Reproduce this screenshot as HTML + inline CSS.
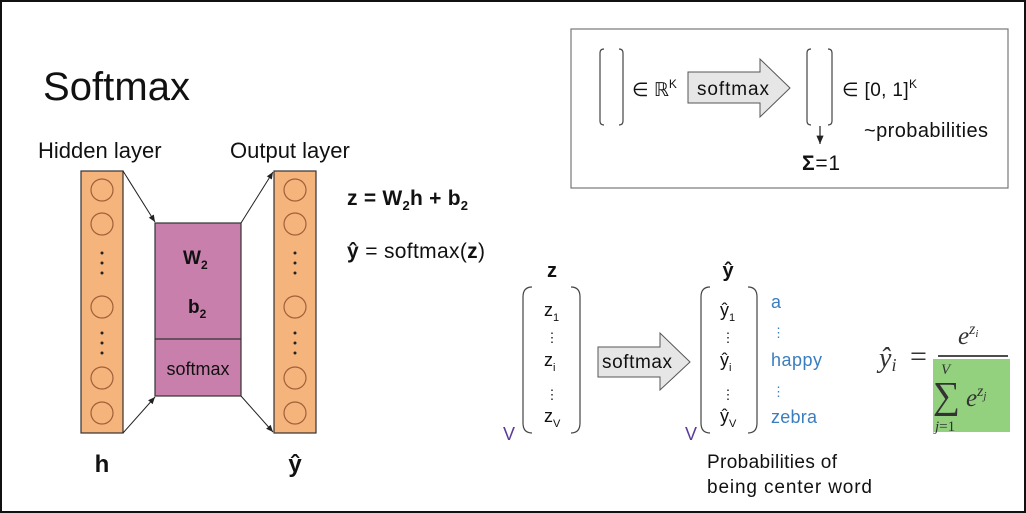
<!DOCTYPE html>
<html><head><meta charset="utf-8"><style>
html,body{margin:0;padding:0;background:#fff}
svg{display:block}
text{font-family:"Liberation Sans",sans-serif;fill:#111}
.m{font-family:"Liberation Serif",serif;font-style:italic}
</style></head><body>
<svg width="1026" height="513" viewBox="0 0 1026 513">
<defs><marker id="ah" markerWidth="8" markerHeight="8" refX="7" refY="4" orient="auto"><path d="M0,1 L7,4 L0,7 z" fill="#222"/></marker></defs>
<rect x="1" y="1" width="1024" height="511" fill="#fff" stroke="#111" stroke-width="2"/>
<text x="43" y="100" font-size="40" textLength="147">Softmax</text>
<text x="38" y="158" font-size="22">Hidden layer</text>
<text x="230" y="158" font-size="22">Output layer</text>

<g>
<rect x="81" y="171" width="42" height="262" fill="#f5b47c" stroke="#333" stroke-width="1.2"/>
<g fill="none" stroke="#a0603a" stroke-width="1.2">
<circle cx="102" cy="190" r="11"/><circle cx="102" cy="224" r="11"/><circle cx="102" cy="307" r="11"/><circle cx="102" cy="378" r="11"/><circle cx="102" cy="413" r="11"/></g>
<g fill="#222"><circle cx="102" cy="253" r="1.5"/><circle cx="102" cy="263" r="1.5"/><circle cx="102" cy="273" r="1.5"/><circle cx="102" cy="333" r="1.5"/><circle cx="102" cy="343" r="1.5"/><circle cx="102" cy="353" r="1.5"/></g>
</g>
<g>
<rect x="274" y="171" width="42" height="262" fill="#f5b47c" stroke="#333" stroke-width="1.2"/>
<g fill="none" stroke="#a0603a" stroke-width="1.2">
<circle cx="295" cy="190" r="11"/><circle cx="295" cy="224" r="11"/><circle cx="295" cy="307" r="11"/><circle cx="295" cy="378" r="11"/><circle cx="295" cy="413" r="11"/></g>
<g fill="#222"><circle cx="295" cy="253" r="1.5"/><circle cx="295" cy="263" r="1.5"/><circle cx="295" cy="273" r="1.5"/><circle cx="295" cy="333" r="1.5"/><circle cx="295" cy="343" r="1.5"/><circle cx="295" cy="353" r="1.5"/></g>
</g>
<g>
<rect x="155" y="223" width="86" height="173" fill="#c97fab" stroke="#333" stroke-width="1.2"/>
<line x1="155" y1="339" x2="241" y2="339" stroke="#333" stroke-width="1.2"/>
<text x="183" y="264" font-size="19" font-weight="bold">W<tspan font-size="12" dy="5">2</tspan></text>
<text x="188" y="313" font-size="19" font-weight="bold">b<tspan font-size="12" dy="5">2</tspan></text>
<text x="198" y="375" font-size="18" text-anchor="middle">softmax</text>
</g>
<g stroke="#222" stroke-width="1" marker-end="url(#ah)">
<line x1="123" y1="171" x2="155" y2="222"/><line x1="123" y1="433" x2="155" y2="397"/>
<line x1="241" y1="223" x2="273" y2="172"/><line x1="241" y1="396" x2="273" y2="432"/>
</g>
<text x="102" y="472" font-size="24" font-weight="bold" text-anchor="middle">h</text>
<text x="295" y="472" font-size="24" font-weight="bold" text-anchor="middle">ŷ</text>
<text x="347" y="205" font-size="21" font-weight="bold" textLength="121">z = W<tspan font-size="13" dy="5">2</tspan><tspan dy="-5">h + b</tspan><tspan font-size="13" dy="5">2</tspan></text>
<text x="347" y="258" font-size="21" textLength="138"><tspan font-weight="bold">ŷ</tspan> = softmax(<tspan font-weight="bold">z</tspan>)</text>

<g>
<rect x="571" y="29" width="437" height="159" fill="#fff" stroke="#777" stroke-width="1.2"/>
<g fill="none" stroke="#444" stroke-width="1.2">
<path d="M604,49 Q600,49 600,53 L600,121 Q600,125 604,125"/><path d="M619,49 Q623,49 623,53 L623,121 Q623,125 619,125"/>
<path d="M811,49 Q807,49 807,53 L807,121 Q807,125 811,125"/><path d="M828,49 Q832,49 832,53 L832,121 Q832,125 828,125"/>
</g>
<text x="632" y="96" font-size="19">∈ ℝ<tspan font-size="12" dy="-8">K</tspan></text>
<path d="M688,72 L760,72 L760,59 L790,88 L760,117 L760,103 L688,103 Z" fill="#e6e6e6" stroke="#555" stroke-width="1"/>
<text x="697" y="95" font-size="19" textLength="72">softmax</text>
<text x="842" y="96" font-size="19" textLength="75">∈ [0, 1]<tspan font-size="12" dy="-8">K</tspan></text>
<text x="864" y="137" font-size="20" textLength="124">~probabilities</text>
<line x1="820" y1="126" x2="820" y2="144" stroke="#222" stroke-width="1.2" marker-end="url(#ah)"/>
<text x="802" y="170" font-size="21" textLength="38"><tspan font-weight="bold">Σ</tspan>=1</text>
</g>

<g>
<text x="552" y="277" font-size="20" font-weight="bold" text-anchor="middle">z</text>
<g fill="none" stroke="#444" stroke-width="1.2">
<path d="M532,287 Q523,287 523,297 L523,423 Q523,433 532,433"/><path d="M571,287 Q580,287 580,297 L580,423 Q580,433 571,433"/>
</g>
<text x="544" y="316" font-size="18">z<tspan font-size="11" dy="5">1</tspan></text>
<text x="552" y="342" font-size="13" text-anchor="middle">⋮</text>
<text x="544" y="366" font-size="18">z<tspan font-size="11" dy="5">i</tspan></text>
<text x="552" y="399" font-size="13" text-anchor="middle">⋮</text>
<text x="544" y="422" font-size="18">z<tspan font-size="11" dy="5">V</tspan></text>
<text x="503" y="440" font-size="18" style="fill:#5b3a9a">V</text>
</g>
<g>
<path d="M598,347 L660,347 L660,333 L690,362 L660,390 L660,377 L598,377 Z" fill="#e6e6e6" stroke="#555" stroke-width="1"/>
<text x="602" y="368" font-size="19" textLength="70">softmax</text>
</g>
<g>
<text x="728" y="277" font-size="20" font-weight="bold" text-anchor="middle">ŷ</text>
<g fill="none" stroke="#444" stroke-width="1.2">
<path d="M710,287 Q701,287 701,297 L701,423 Q701,433 710,433"/><path d="M748,287 Q757,287 757,297 L757,423 Q757,433 748,433"/>
</g>
<text x="720" y="316" font-size="18">ŷ<tspan font-size="11" dy="5">1</tspan></text>
<text x="728" y="342" font-size="13" text-anchor="middle">⋮</text>
<text x="720" y="366" font-size="18">ŷ<tspan font-size="11" dy="5">i</tspan></text>
<text x="728" y="399" font-size="13" text-anchor="middle">⋮</text>
<text x="720" y="422" font-size="18">ŷ<tspan font-size="11" dy="5">V</tspan></text>
<text x="685" y="440" font-size="18" style="fill:#5b3a9a">V</text>
<g font-size="18">
<text x="771" y="308" style="fill:#3a7ebf">a</text>
<text x="772" y="337" font-size="13" style="fill:#3a7ebf">⋮</text>
<text x="771" y="366" style="fill:#3a7ebf" textLength="51">happy</text>
<text x="772" y="396" font-size="13" style="fill:#3a7ebf">⋮</text>
<text x="771" y="423" style="fill:#3a7ebf" textLength="46">zebra</text>
</g>
<text x="707" y="468" font-size="19" textLength="130">Probabilities of</text>
<text x="707" y="493" font-size="19" textLength="165">being center word</text>
</g>

<g>
<rect x="933" y="359" width="77" height="73" fill="#93d17f"/>
<text x="879" y="367" font-size="28" class="m" style="fill:#333">ŷ<tspan font-size="18" dy="4">i</tspan></text>
<text x="910" y="366" font-size="30" style="fill:#333;font-family:'Liberation Serif',serif">=</text>
<line x1="938" y1="356" x2="1008" y2="356" stroke="#333" stroke-width="1.8"/>
<text x="958" y="344" font-size="25" class="m" style="fill:#333">e<tspan font-size="16" dy="-10">z</tspan><tspan font-size="11" dy="3">i</tspan></text>
<text x="941" y="374" font-size="15" class="m" style="fill:#333">V</text>
<text x="933" y="408" font-size="38" style="fill:#333;font-family:'Liberation Serif',serif">∑</text>
<text x="935" y="431" font-size="15" class="m" style="fill:#333">j<tspan style="font-style:normal">=1</tspan></text>
<text x="966" y="406" font-size="25" class="m" style="fill:#333">e<tspan font-size="16" dy="-10">z</tspan><tspan font-size="11" dy="3">j</tspan></text>
</g>
</svg>
</body></html>
